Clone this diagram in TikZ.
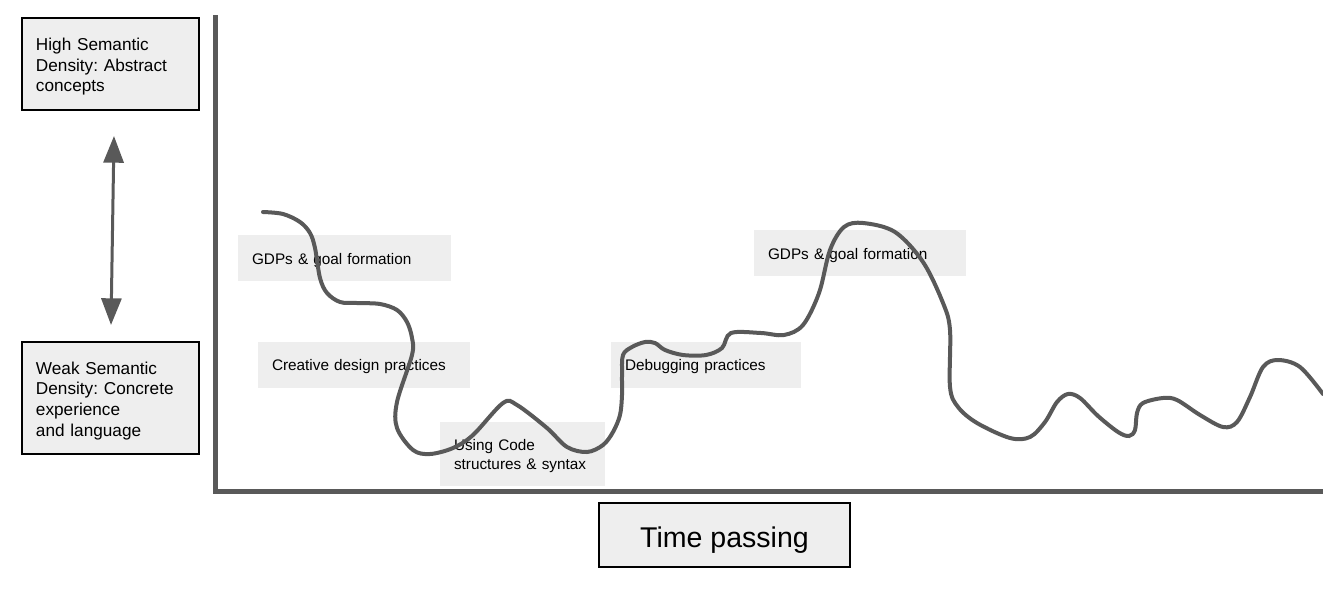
\documentclass[tikz,border=0pt]{standalone}
\usepackage{fontspec}
\setmainfont{Liberation Sans}
\frenchspacing
\usepackage{tikz}
\usetikzlibrary{calc,arrows.meta,positioning}
\definecolor{linegray}{HTML}{595959}
\definecolor{boxgray}{HTML}{EEEEEE}

\begin{document}
\begin{tikzpicture}[x=0.75pt,y=-0.75pt,
		density/.style={draw=black,line width=1.8pt,fill=boxgray,inner xsep=10.5pt,align=left,
			font=\fontsize{12.9}{15.4}\selectfont,execute at begin node={\rule{0pt}{1.05em}}},
		stage/.style={fill=boxgray,inner xsep=10.5pt,align=left,minimum height=34.5pt,
			font=\fontsize{11.5}{14.3}\selectfont,execute at begin node={\rule{0pt}{1.05em}}}]
				\useasboundingbox (0,0) rectangle (1323,603);
				% semantic density boxes
				\node[density,text width=111.75pt,minimum height=69pt] (high) at (110.5,64) {High Semantic\\Density: Abstract\\concepts};
				\node[density,text width=111.75pt,minimum height=84pt] (weak) at (110.5,398) {Weak Semantic\\Density: Concrete\\experience\\and language};
				\coordinate (uptip) at (114,136);
				\coordinate (downtip) at (111,325);
				\draw[linegray,line width=2.25pt,{Triangle[length=20pt,width=15pt]}-{Triangle[length=20pt,width=15pt]}] (downtip) -- (uptip);
				% axes
				\draw[linegray,line width=3.75pt] (215,15) -- (215,491) -- (1323,491);
				\node[density,align=center,minimum width=188.25pt,minimum height=48pt,font=\fontsize{21.4}{25}\selectfont] (time) at (724.5,535) {Time passing};
				% stages
				\node[stage,text width=138.75pt] (gdpa) at (344.5,258) {GDPs \& goal formation};
				\node[stage,text width=138pt] (creative) at (364,364.5) {Creative design practices};
				\node[stage,text width=102.75pt,minimum height=48pt] (code) at (522.5,454) {Using Code\\structures \& syntax};
				\node[stage,text width=121.5pt] (debug) at (706,364.5) {Debugging practices};
				\node[stage,text width=138pt] (gdpb) at (860,253) {GDPs \& goal formation};
				% learning path
				\draw[linegray,line width=3pt,line cap=round] plot[smooth,tension=0.55] coordinates {
					(263,212) (283,214) (300,222) (310,233) (315,248) (320,278) (327,293) (340,302)
					(357,303) (380,304) (397,310) (407,322) (412,338) (412,355) (397,402) (397,428)
					(413,450) (430,454) (453,448) (473,435) (503,403) (517,405) (547,428) (567,447)
					(587,452) (603,445) (613,432) (620,415) (622,395) (622,375) (623,355) (632,347)
					(645,342) (655,343) (665,350) (683,355) (706,355) (722,348) (731,333)
					(761,333) (784,335) (803,325) (819,293) (830,250) (844,227) (863,223) (895,232)
					(923,262) (943,303) (950,330) (950,387) (958,407) (977,423) (1010,438) (1030,437)
					(1045,422) (1057,402) (1068,394) (1080,398) (1098,416) (1118,432) (1129,436) (1135,430)
					(1137,413) (1143,403) (1163,398) (1177,400) (1200,415) (1223,427) (1237,422)
					(1250,397) (1263,367) (1278,360) (1300,367) (1323,394)};
			\end{tikzpicture}
\end{document}
